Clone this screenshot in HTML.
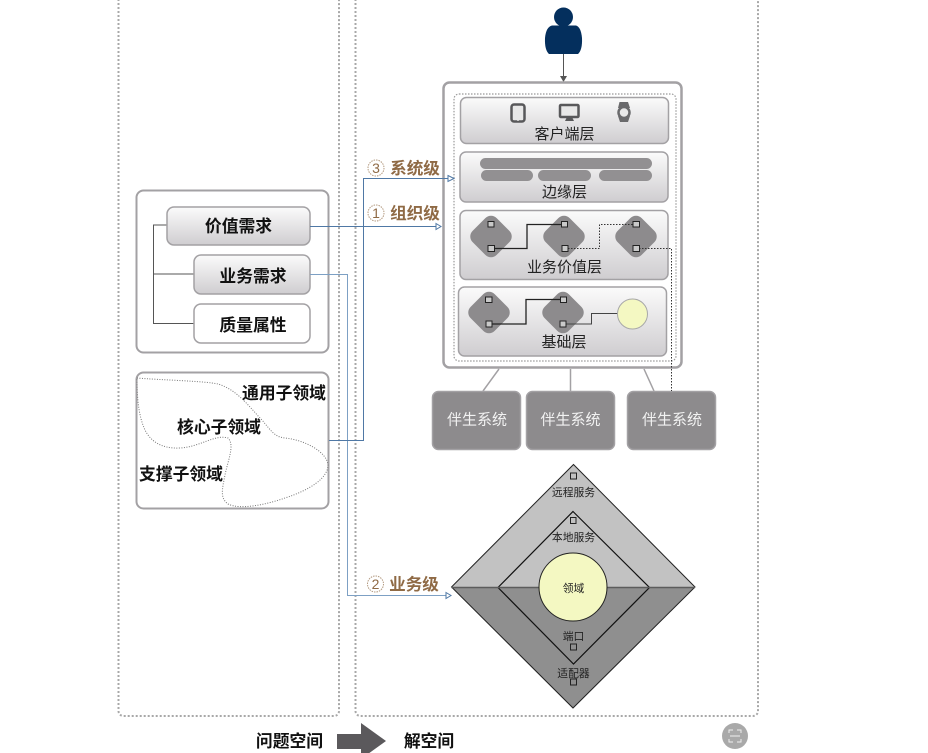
<!DOCTYPE html>
<html>
<head>
<meta charset="utf-8">
<style>
html,body{margin:0;padding:0;background:#fff;width:928px;height:753px;overflow:hidden}
svg{display:block;position:absolute;left:0;top:0}
text{font-family:"Liberation Sans","Noto Sans CJK SC",sans-serif;text-anchor:middle}
.b{font-weight:700;font-size:16.800px;fill:#111}
.l{font-size:15px;fill:#222}
.w{font-size:15px;fill:#f2f2f2}
.s{font-size:10.800px;fill:#222}
.o{font-weight:700;font-size:16.600px;fill:#8f6a45}
.p{fill:#c9c9c9;stroke:#222;stroke-width:1}
</style>
</head>
<body>
<svg width="928" height="753" viewBox="0 0 928 753">
<defs>
<linearGradient id="g" x1="0" y1="0" x2="0" y2="1">
<stop offset="0" stop-color="#fbfbfb"/><stop offset="1" stop-color="#cfcdd0"/>
</linearGradient>
</defs>

<!-- dashed regions -->
<path d="M118.500 -5V711a5 5 0 0 0 5 5H334a5 5 0 0 0 5-5V-5" fill="none" stroke="#a8a8a8" stroke-width="2" stroke-dasharray="2 2"/>
<path d="M355.500 -5V711a5 5 0 0 0 5 5H753a5 5 0 0 0 5-5V-5" fill="none" stroke="#a8a8a8" stroke-width="2" stroke-dasharray="2 2"/>

<!-- left boxes -->
<rect x="136.500" y="190.500" width="192" height="162" rx="7" fill="#fff" stroke="#a3a1a4" stroke-width="2"/>
<path d="M167 225H153.500V323.500H194M153.500 274H194" fill="none" stroke="#555" stroke-width="1"/>
<rect x="167" y="207" width="143" height="38" rx="7" fill="url(#g)" stroke="#a3a1a4" stroke-width="1.500"/>
<rect x="194" y="255" width="116" height="39" rx="7" fill="url(#g)" stroke="#a3a1a4" stroke-width="1.500"/>
<rect x="194" y="304" width="116" height="39" rx="7" fill="#fff" stroke="#a3a1a4" stroke-width="1.500"/>
<text class="b" x="238.500" y="232">价值需求</text>
<text class="b" x="253" y="282">业务需求</text>
<text class="b" x="253" y="331">质量属性</text>

<rect x="136.500" y="372.500" width="192" height="136" rx="7" fill="#fff" stroke="#a3a1a4" stroke-width="2"/>
<path d="M137 378C160 380 205 381 218 384C238 390 250 408 262 420C272 432 275 437 285 438C305 440 327 452 328 465C328 478 310 490 285 498C265 505 240 510 228 504C220 498 222 490 225 475C228 460 235 445 228 438C215 434 200 447 180 448C160 449 150 440 145 430C138 415 137 395 137 378Z" fill="none" stroke="#777" stroke-width="1" stroke-dasharray="1 1.500"/>
<text class="b" x="284" y="399">通用子领域</text>
<text class="b" x="219" y="433">核心子领域</text>
<text class="b" x="181" y="480">支撑子领域</text>

<!-- person -->
<circle cx="563.500" cy="17" r="9.500" fill="#042f5d"/>
<path d="M552 25.500H576Q581 27 582 38Q582.500 50 578 54H549Q544.500 50 545 38Q546 27 552 25.500Z" fill="#042f5d"/>
<path d="M563.500 54V78" stroke="#555" stroke-width="1"/>
<path d="M560 76H567L563.500 82Z" fill="#555"/>

<!-- main frame -->
<rect x="443.500" y="82.500" width="238" height="285" rx="6" fill="#fff" stroke="#a3a1a4" stroke-width="2.500"/>
<rect x="454" y="94" width="222" height="267" rx="5" fill="none" stroke="#999" stroke-width="1.200" stroke-dasharray="1.500 1.500"/>

<!-- client layer -->
<rect x="460.500" y="97.500" width="208" height="46" rx="6" fill="url(#g)" stroke="#a3a1a4" stroke-width="1.500"/>
<rect x="511.500" y="104.500" width="13" height="17" rx="2.500" fill="#e8e8e8" stroke="#58585a" stroke-width="2.500"/>
<circle cx="518" cy="120" r="1" fill="#e8e8e8"/>
<rect x="560" y="105" width="18.500" height="12" rx="1" fill="#e8e8e8" stroke="#58585a" stroke-width="2.500"/>
<path d="M567 117H572L574 121H565Z" fill="#58585a"/>
<path d="M619.500 102H628L630 108H618Z M618 116H630L628 122H620Z" fill="#6a6a6c"/>
<circle cx="624" cy="112.500" r="5.500" fill="#e8e8e8" stroke="#6a6a6c" stroke-width="2.500"/>
<text class="l" x="564.500" y="139">客户端层</text>

<!-- edge layer -->
<rect x="460" y="152" width="208" height="50" rx="6" fill="url(#g)" stroke="#a3a1a4" stroke-width="1.500"/>
<rect x="480" y="158" width="172" height="11" rx="5.500" fill="#929092"/>
<rect x="481" y="170" width="52" height="11" rx="5.500" fill="#929092"/>
<rect x="538" y="170" width="53" height="11" rx="5.500" fill="#929092"/>
<rect x="599" y="170" width="53" height="11" rx="5.500" fill="#929092"/>
<text class="l" x="564.500" y="197">边缘层</text>

<!-- value layer -->
<rect x="460" y="210.500" width="208" height="69" rx="6" fill="url(#g)" stroke="#a3a1a4" stroke-width="1.500"/>
<g fill="#8d8b8d">
<rect x="474" y="219.500" width="34" height="34" rx="8" transform="rotate(45 491 236.500)"/>
<rect x="547" y="219.500" width="34" height="34" rx="8" transform="rotate(45 564 236.500)"/>
<rect x="619" y="219.500" width="34" height="34" rx="8" transform="rotate(45 636 236.500)"/>
</g>
<path d="M491 248.500H527V224.500H564" fill="none" stroke="#222" stroke-width="1.300"/>
<path d="M565 248.500H599.500V224.500H636" fill="none" stroke="#333" stroke-width="1" stroke-dasharray="1.500 1.500"/>
<path d="M636 248.500H671.500V391" fill="none" stroke="#333" stroke-width="1" stroke-dasharray="1.500 1.500"/>
<rect class="p" x="488" y="221.500" width="6" height="5.500"/>
<rect class="p" x="488" y="245.500" width="6.500" height="6"/>
<rect class="p" x="561.500" y="221.500" width="6" height="5.500"/>
<rect class="p" x="562" y="245.500" width="6" height="6"/>
<rect class="p" x="633" y="221.500" width="6.500" height="5.500"/>
<rect class="p" x="633" y="245.500" width="6.500" height="6"/>
<text class="l" x="564.500" y="272">业务价值层</text>

<!-- base layer -->
<rect x="458.500" y="287" width="208" height="69" rx="6" fill="url(#g)" stroke="#a3a1a4" stroke-width="1.500"/>
<g fill="#8d8b8d">
<rect x="472" y="295.500" width="34" height="34" rx="8" transform="rotate(45 489 312.500)"/>
<rect x="546" y="295.500" width="34" height="34" rx="8" transform="rotate(45 563 312.500)"/>
</g>
<path d="M489 324H526V299.500H563" fill="none" stroke="#222" stroke-width="1.300"/>
<path d="M563 324H591.500V313.500H618" fill="none" stroke="#444" stroke-width="1"/>
<circle cx="632.500" cy="314" r="15" fill="#f4f8c2" stroke="#a8a8a8" stroke-width="1"/>
<rect class="p" x="485.500" y="297" width="6.500" height="5.500"/>
<rect class="p" x="486" y="321" width="6" height="6"/>
<rect class="p" x="560.500" y="297" width="6" height="5.500"/>
<rect class="p" x="560" y="321" width="6" height="6"/>
<text class="l" x="564" y="347">基础层</text>

<!-- companions -->
<path d="M499 369L483 391M570.500 369V391M644 369L654 391" stroke="#a3a1a4" stroke-width="1.500" fill="none"/>
<rect x="432.500" y="391.500" width="88" height="58" rx="6" fill="#8d8b8d" stroke="#a3a1a4" stroke-width="1.500"/>
<rect x="526.500" y="391.500" width="88" height="58" rx="6" fill="#8d8b8d" stroke="#a3a1a4" stroke-width="1.500"/>
<rect x="627.500" y="391.500" width="88" height="58" rx="6" fill="#8d8b8d" stroke="#a3a1a4" stroke-width="1.500"/>
<path d="M671.500 369V391" stroke="#333" stroke-width="1" stroke-dasharray="1.500 1.500"/>
<text class="w" x="477" y="424.500">伴生系统</text>
<text class="w" x="570.500" y="424.500">伴生系统</text>
<text class="w" x="672" y="424.500">伴生系统</text>

<!-- hexagon diamond -->
<path d="M451.500 587L573.500 464.500L695 587Z" fill="#c2c2c2"/>
<path d="M451.500 587H695L573 708Z" fill="#8f8f8f"/>
<path d="M573.500 464.500L695 587L573 708L451.500 587Z" fill="none" stroke="#222" stroke-width="1"/>
<path d="M573 511.500L649.500 587.500L573.500 664L498 587.500Z" fill="none" stroke="#111" stroke-width="1.200"/>
<path d="M451.500 587.500H695" stroke="#5c5c5c" stroke-width="1.500"/>
<circle cx="573" cy="587" r="34" fill="#f4f8c2" stroke="#222" stroke-width="1"/>
<rect x="570.500" y="473" width="6" height="6" fill="none" stroke="#222" stroke-width="1"/>
<rect x="570.500" y="517.500" width="5.500" height="6" fill="none" stroke="#222" stroke-width="1"/>
<rect x="570.500" y="644" width="6" height="6" fill="none" stroke="#222" stroke-width="1"/>
<rect x="570.500" y="679" width="6" height="6" fill="none" stroke="#222" stroke-width="1"/>
<text class="s" x="573.500" y="496">远程服务</text>
<text class="s" x="573.500" y="541">本地服务</text>
<text class="s" x="573.500" y="592">领域</text>
<text class="s" x="573.500" y="640">端口</text>
<text class="s" x="573.500" y="677">适配器</text>

<!-- blue connectors -->
<g fill="none" stroke="#4f78a5" stroke-width="1">
<path d="M310 226.500H436"/>
<path d="M310 274.500H347.500V595.500H448" stroke="#7da0c4"/>
<path d="M329 440.500H363.500V178.500H448"/>
<path d="M436 223.500L441 226.500L436 229.500Z" fill="#fff"/>
<path d="M448 175.500L454 178.500L448 181.500Z" fill="#fff"/>
<path d="M446 592.500L451 595.500L446 598.500Z" fill="#fff"/>
</g>

<!-- connector labels -->
<circle cx="376" cy="168" r="8" fill="none" stroke="#b39a80" stroke-width="1" stroke-dasharray="1.500 1"/>
<text x="376" y="173" style="font-size:14px;fill:#8f6a45">3</text>
<text class="o" x="415" y="174">系统级</text>
<circle cx="376" cy="213" r="8" fill="none" stroke="#b39a80" stroke-width="1" stroke-dasharray="1.500 1"/>
<text x="376" y="218" style="font-size:14px;fill:#8f6a45">1</text>
<text class="o" x="415" y="219">组织级</text>
<circle cx="375.500" cy="584" r="8" fill="none" stroke="#b39a80" stroke-width="1" stroke-dasharray="1.500 1"/>
<text x="375.500" y="589" style="font-size:14px;fill:#8f6a45">2</text>
<text class="o" x="414" y="590">业务级</text>

<!-- bottom legend -->
<text class="b" x="289.500" y="747">问题空间</text>
<path d="M337 734H361V723L386 741L361 759V749H337Z" fill="#5b595c"/>
<text class="b" x="429" y="747">解空间</text>
<circle cx="735" cy="736" r="13" fill="#a9a9a9"/>
<path d="M729 733V730H733M741 733V730H737M729 739V742H733M741 739V742H737M730 736H740" fill="none" stroke="#eee" stroke-width="1"/>
</svg>
</body>
</html>
